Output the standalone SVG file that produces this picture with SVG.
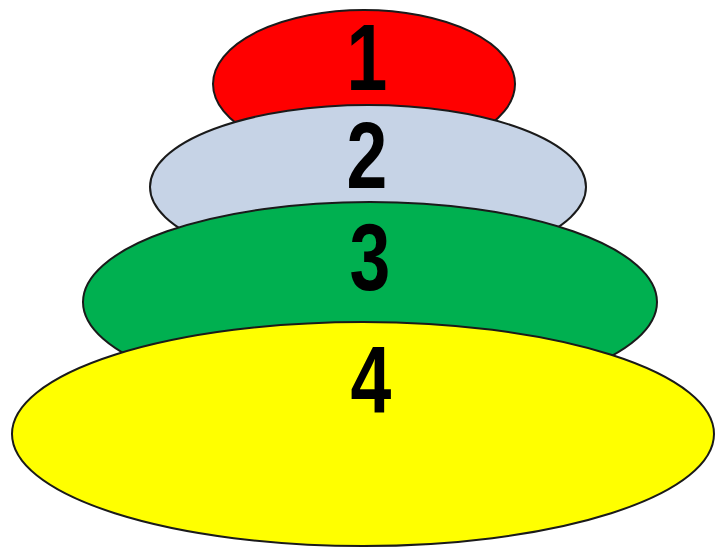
<svg xmlns="http://www.w3.org/2000/svg" width="716" height="549" viewBox="0 0 716 549">
<style>
.l{stroke:#1a1a1a;stroke-width:2}
.t{font-family:"Liberation Sans",Arial,sans-serif;font-weight:bold;font-size:94px;fill:#000;text-anchor:middle}
</style>
<rect width="716" height="549" fill="#fff"/>
<g id="node1">
<ellipse class="l" cx="364" cy="84" rx="151" ry="74" fill="#FF0000"/>
<text class="t" transform="translate(367,90) scale(0.78,1)">1</text>
</g>
<g id="node2">
<ellipse class="l" cx="368" cy="187" rx="218" ry="82" fill="#C6D3E6"/>
<text class="t" transform="translate(367,188) scale(0.78,1)">2</text>
</g>
<g id="node3">
<ellipse class="l" cx="370" cy="302" rx="287" ry="100" fill="#00B050"/>
<text class="t" transform="translate(370,290) scale(0.78,1)">3</text>
</g>
<g id="node4">
<ellipse class="l" cx="363" cy="434" rx="351" ry="112" fill="#FFFF00"/>
<text class="t" transform="translate(371,412) scale(0.78,1)">4</text>
</g>
<g id="connectors"></g>
</svg>
